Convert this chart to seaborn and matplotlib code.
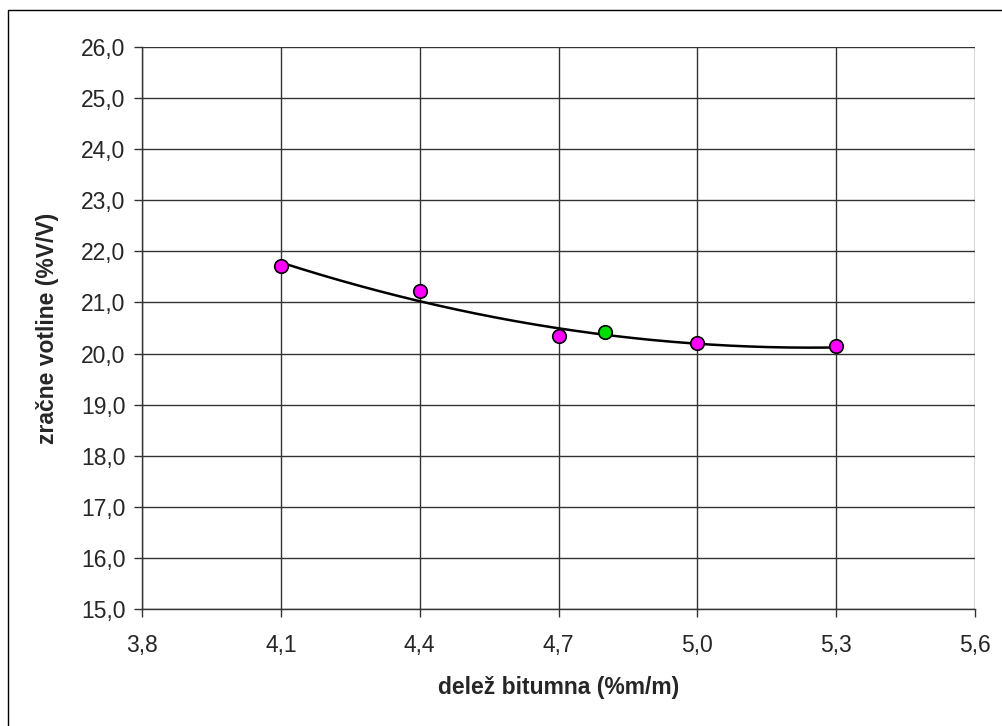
import numpy as np
import pandas as pd
import seaborn as sns
import matplotlib.pyplot as plt
from matplotlib.patches import Rectangle

# measured points
bitumen = [4.1, 4.4, 4.7, 5.0, 5.3]
voids = [21.71, 21.22, 20.34, 20.20, 20.14]

# optimum point (green)
opt_bitumen = [4.8]
opt_voids = [20.42]

x_ticks = [3.8, 4.1, 4.4, 4.7, 5.0, 5.3, 5.6]
y_ticks = [15, 16, 17, 18, 19, 20, 21, 22, 23, 24, 25, 26]

sns.set_style('white')
plt.rcParams['font.family'] = ['Liberation Sans', 'DejaVu Sans']

fig = plt.figure(figsize=(10.03, 7.26), dpi=100)
ax = fig.add_axes([0.1416, 0.1612, 0.8305, 0.7741])

# outer chart frame (left and top edges visible)
fig.patches.append(Rectangle((8 / 1003, -0.1), 1.2, 1 - 10 / 726 + 0.1,
                             transform=fig.transFigure, fill=False,
                             edgecolor='black', linewidth=1))

df = pd.DataFrame({'x': bitumen, 'y': voids})

# 2nd order polynomial trendline (like Excel)
coef = np.polyfit(df['x'], df['y'], 2)
xs = np.linspace(min(bitumen), max(bitumen), 200)
trend = pd.DataFrame({'x': xs, 'y': np.polyval(coef, xs)})
sns.lineplot(data=trend, x='x', y='y', ax=ax, color='black', linewidth=1.8, zorder=3)

sns.scatterplot(data=df, x='x', y='y', ax=ax, color='#ff00ff', edgecolor='black',
                linewidth=1.2, s=95, zorder=4)
sns.scatterplot(x=opt_bitumen, y=opt_voids, ax=ax, color='#00dd00', edgecolor='black',
                linewidth=1.2, s=95, zorder=4)

ax.set_xlim(3.8, 5.6)
ax.set_ylim(15, 26)
ax.set_xticks(x_ticks)
ax.set_yticks(y_ticks)
ax.set_xticklabels([f'{v:.1f}'.replace('.', ',') for v in x_ticks])
ax.set_yticklabels([f'{v:.1f}'.replace('.', ',') for v in y_ticks])

ax.grid(True, color='#333333', linewidth=1)
ax.set_axisbelow(True)
for side in ['top', 'right']:
    ax.spines[side].set_visible(False)
for side in ['left', 'bottom']:
    ax.spines[side].set_color('#333333')
    ax.spines[side].set_linewidth(1)

ax.tick_params(axis='both', direction='out', length=6, width=1, color='#333333',
               labelsize=16.5, pad=6, left=True, bottom=True)
ax.tick_params(axis='x', pad=12)

ax.set_xlabel('delež bitumna (%m/m)', fontsize=16.5, fontweight='bold', labelpad=14)
ax.set_ylabel('zračne votline (%V/V)', fontsize=16.5, fontweight='bold', labelpad=16)

fig.savefig('out.png', dpi=100)
